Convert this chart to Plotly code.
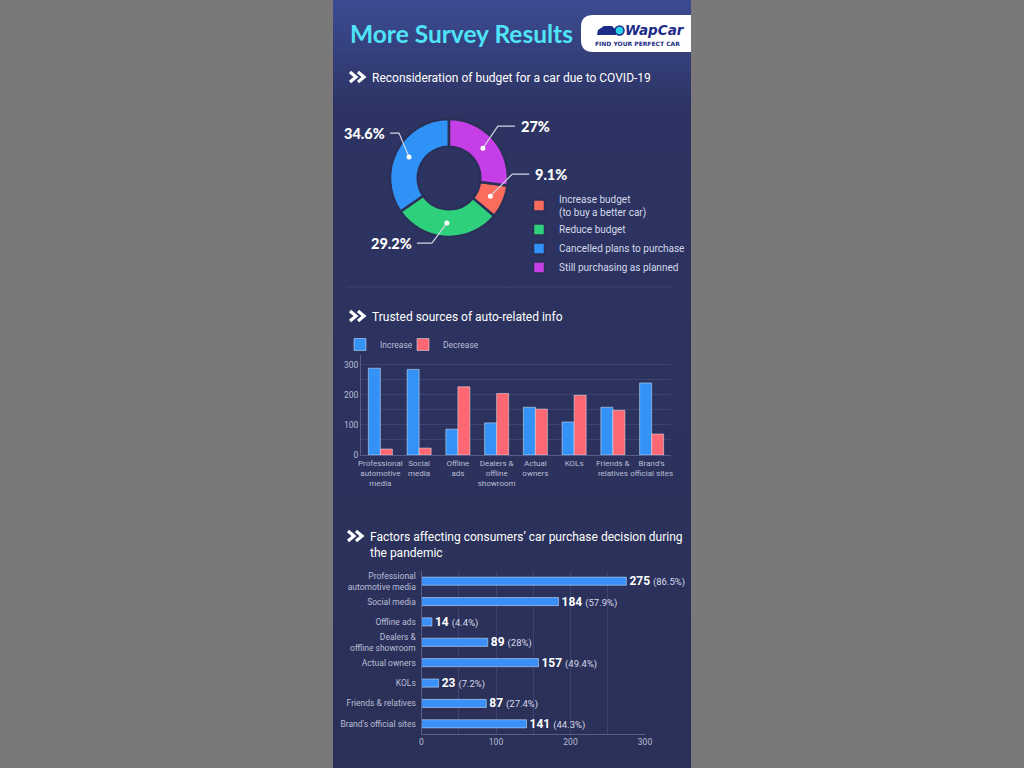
"""
More Survey Results infographic (WapCar) rebuilt with Plotly.
"""

import base64
import math

import plotly.graph_objects as go

# --------------------------------------------------
# Data
# --------------------------------------------------

BUDGET_LABELS = [
    "Increase budget<br>(to buy a better car)",
    "Reduce budget",
    "Cancelled plans to purchase",
    "Still purchasing as planned",
]
BUDGET_SHARE = [9.1, 29.2, 34.6, 27]
BUDGET_TEXT = ["9.1%", "29.2%", "34.6%", "27%"]

SOURCE_CATS = [
    "Professional<br>automotive<br>media",
    "Social<br>media",
    "Offline<br>ads",
    "Dealers &<br>offline<br>showroom",
    "Actual<br>owners",
    "KOLs",
    "Friends &<br>relatives",
    "Brand's<br>official sites",
]
SOURCE_INCREASE = [289, 285, 86, 107, 159, 110, 159, 240]
SOURCE_DECREASE = [20, 23, 227, 205, 153, 199, 149, 70]

FACTOR_CATS = [
    "Professional<br>automotive media",
    "Social media",
    "Offline ads",
    "Dealers &<br>offline showroom",
    "Actual owners",
    "KOLs",
    "Friends & relatives",
    "Brand's official sites",
]
FACTOR_COUNT = [275, 184, 14, 89, 157, 23, 87, 141]
FACTOR_PCT = ["86.5%", "57.9%", "4.4%", "28%", "49.4%", "7.2%", "27.4%", "44.3%"]

# --------------------------------------------------
# Styling helpers (pixel -> paper)
# --------------------------------------------------

W, H = 1024, 768
PANEL_X0, PANEL_X1 = 333, 691
BG = "#2a3057"
GRID = "#3b4370"
AXIS = "#565e8c"
TICK = "#b9bed6"
FONT = "Roboto"


def px(x):
    return x / W


def py(y):
    return 1 - y / H


def path(points, close=False):
    s = " ".join(
        ("M" if i == 0 else "L") + f" {px(x):.5f},{py(y):.5f}"
        for i, (x, y) in enumerate(points)
    )
    return s + (" Z" if close else "")


def note(text, x, y, size, color="white", xanchor="left", family=FONT, weight=None,
         yanchor="middle"):
    font = dict(family=family, size=size, color=color)
    if weight:
        font["weight"] = weight
    return dict(text=text, x=px(x), y=py(y), xref="paper", yref="paper",
                xanchor=xanchor, yanchor=yanchor,
                align=xanchor if xanchor != "center" else "center",
                showarrow=False, font=font)


fig = go.Figure()

# --------------------------------------------------
# Donut: budget reconsideration
# --------------------------------------------------

pie_cx, pie_cy, pie_r, hole = 449, 178, 59, 0.53
total = sum(BUDGET_SHARE)
rotation = 360 * BUDGET_SHARE[-1] / total

fig.add_trace(
    go.Pie(
        labels=BUDGET_LABELS,
        values=BUDGET_SHARE,
        hole=hole,
        sort=False,
        direction="clockwise",
        rotation=rotation,
        textinfo="none",
        marker=dict(
            colors=["#fb6c5c", "#2fd07c", "#2f92f6", "#c63ee6"],
            line=dict(color=BG, width=2.5),
        ),
        domain=dict(
            x=[px(pie_cx - pie_r), px(pie_cx + pie_r)],
            y=[py(pie_cy + pie_r), py(pie_cy - pie_r)],
        ),
        legend="legend",
        hoverinfo="label+percent",
    )
)

# --------------------------------------------------
# Grouped bars: trusted sources
# --------------------------------------------------

fig.add_trace(
    go.Bar(
        x=SOURCE_CATS,
        y=SOURCE_INCREASE,
        name="Increase",
        marker=dict(color="#3492f7"),
        xaxis="x",
        yaxis="y",
        legend="legend2",
    )
)
fig.add_trace(
    go.Bar(
        x=SOURCE_CATS,
        y=SOURCE_DECREASE,
        name="Decrease",
        marker=dict(color="#ff6872"),
        xaxis="x",
        yaxis="y",
        legend="legend3",
    )
)

# --------------------------------------------------
# Horizontal bars: purchase factors
# --------------------------------------------------

fig.add_trace(
    go.Bar(
        y=FACTOR_CATS,
        x=FACTOR_COUNT,
        orientation="h",
        width=0.4,
        marker=dict(color="#3a90f8"),
        text=[
            f"<b>{c}</b> <span style='font-size:9.5px;color:#d6d9ea'>({p})</span>"
            for c, p in zip(FACTOR_COUNT, FACTOR_PCT)
        ],
        textposition="outside",
        constraintext="none",
        textfont=dict(family=FONT, size=12, color="white"),
        cliponaxis=False,
        showlegend=False,
        xaxis="x2",
        yaxis="y2",
    )
)

# --------------------------------------------------
# Panel background (vertical gradient via svg image)
# --------------------------------------------------

svg = (
    '<svg xmlns="http://www.w3.org/2000/svg" width="358" height="768" '
    'preserveAspectRatio="none" viewBox="0 0 358 768">'
    '<defs><linearGradient id="g" x1="0" y1="0" x2="0" y2="1">'
    '<stop offset="0" stop-color="#3c4b93"/>'
    '<stop offset="0.14" stop-color="#2d3463"/>'
    '<stop offset="1" stop-color="#2a3057"/>'
    "</linearGradient></defs>"
    '<rect width="358" height="768" fill="url(#g)"/></svg>'
)
bg_src = "data:image/svg+xml;base64," + base64.b64encode(svg.encode()).decode()

shapes = []
annotations = []

# separator under the donut section
shapes.append(
    dict(type="line", xref="paper", yref="paper", x0=px(346), x1=px(672),
         y0=py(287), y1=py(287), line=dict(color="#3d4572", width=1))
)

# logo box with rounded left corners
logo = (
    f"M {px(593)},{py(15)} L {px(PANEL_X1)},{py(15)} L {px(PANEL_X1)},{py(52)} "
    f"L {px(593)},{py(52)} Q {px(581)},{py(52)} {px(581)},{py(40)} "
    f"L {px(581)},{py(27)} Q {px(581)},{py(15)} {px(593)},{py(15)} Z"
)
shapes.append(dict(type="path", xref="paper", yref="paper", path=logo,
                   fillcolor="white", line=dict(width=0)))
shapes.append(dict(type="path", xref="paper", yref="paper",
                   path=path([(597, 35), (598, 30), (604, 26), (612, 26),
                              (616, 30), (616, 35)], close=True),
                   fillcolor="#1b2b86", line=dict(width=0)))
shapes.append(dict(type="circle", xref="paper", yref="paper",
                   x0=px(615), x1=px(624), y0=py(35), y1=py(26),
                   fillcolor="#2ad3e6", line=dict(color="#1b2b86", width=1.5)))
annotations.append(note("<i><b>WapCar</b></i>", 655, 30, 13.5, "#1b2b86",
                        xanchor="center", family="DejaVu Sans"))
annotations.append(note("<b>FIND YOUR PERFECT CAR</b>", 637, 43, 6, "#1b2b86",
                        xanchor="center", family="DejaVu Sans"))

# main title
annotations.append(note("<b>More Survey Results</b>", 348, 33, 24.5, "#4fe4f7",
                        family="Lato", weight=900))

# section headers with double chevrons
headers = [
    ("Reconsideration of budget for a car due to COVID-19", 350, 77),
    ("Trusted sources of auto-related info", 350, 316),
    ("Factors affecting consumers’ car purchase decision during<br>the pandemic", 348, 536),
]
for text, x0, yc in headers:
    for off in (0, 8):
        shapes.append(dict(type="path", xref="paper", yref="paper",
                           path=path([(x0 + off, yc - 5), (x0 + off + 6, yc),
                                      (x0 + off, yc + 5)]),
                           line=dict(color="white", width=3.2)))
    annotations.append(note(text, x0 + 20, yc - 8, 12, yanchor="top"))

# donut value labels with elbow leaders (offsets are layout tuning)
leaders = [(22, -22, 17), (-15, 20, -15), (-10, -24, -9), (15, -22, 17)]

cum = 0
for val, txt, (dx, dy, run) in zip(BUDGET_SHARE, BUDGET_TEXT, leaders):
    ang = math.radians(rotation + 360 * (cum + val / 2) / total)
    cum += val
    rm = pie_r * (1 + hole) / 2
    dxp = pie_cx + rm * math.sin(ang)
    dyp = pie_cy - rm * math.cos(ang)
    ex, ey = dxp + dx, dyp + dy
    sx = ex + run
    shapes.append(dict(type="path", xref="paper", yref="paper",
                       path=path([(dxp, dyp), (ex, ey), (sx, ey)]),
                       line=dict(color="#cfd3e4", width=1.2)))
    shapes.append(dict(type="circle", xref="paper", yref="paper",
                       x0=px(dxp - 2.5), x1=px(dxp + 2.5),
                       y0=py(dyp + 2.5), y1=py(dyp - 2.5),
                       fillcolor="white", line=dict(width=0)))
    annotations.append(note(txt, sx + (4 if run > 0 else -3), ey, 14.5,
                            xanchor="left" if run > 0 else "right",
                            family="Lato", weight=900))

# --------------------------------------------------
# Layout
# --------------------------------------------------

tick_font = dict(family=FONT, size=8.5, color=TICK)
legend_base = dict(xanchor="left", yanchor="top", bgcolor="rgba(0,0,0,0)")

fig.update_layout(
    width=W,
    height=H,
    autosize=False,
    margin=dict(l=0, r=0, t=0, b=0, autoexpand=False),
    paper_bgcolor="#7a7878",
    plot_bgcolor="rgba(0,0,0,0)",
    font=dict(family=FONT, color="white"),
    barmode="group",
    bargap=0.38,
    bargroupgap=0,
    images=[
        dict(source=bg_src, xref="paper", yref="paper", x=px(PANEL_X0), y=1,
             sizex=px(PANEL_X1) - px(PANEL_X0), sizey=1, sizing="stretch",
             xanchor="left", yanchor="top", layer="below")
    ],
    shapes=shapes,
    annotations=annotations,
    legend=dict(
        legend_base, x=px(519), y=py(186), traceorder="normal",
        font=dict(family=FONT, size=10, color="#d5d9ea"),
    ),
    legend2=dict(
        legend_base, orientation="h", x=px(340), y=py(330),
        font=dict(family=FONT, size=8.5, color=TICK),
    ),
    legend3=dict(
        legend_base, orientation="h", x=px(403), y=py(330),
        font=dict(family=FONT, size=8.5, color=TICK),
    ),
    xaxis=dict(
        domain=[px(361), px(671)],
        anchor="y",
        automargin=False,
        tickfont=dict(family=FONT, size=8, color=TICK),
        showline=True,
        linecolor=AXIS,
        ticks="",
        showgrid=False,
        tickangle=0,
    ),
    yaxis=dict(
        domain=[py(455), py(355)],
        anchor="x",
        automargin=False,
        range=[0, 333],
        dtick=100,
        tickfont=tick_font,
        showline=True,
        linecolor=AXIS,
        gridcolor=GRID,
        minor=dict(dtick=50, showgrid=True, gridcolor=GRID),
        zeroline=False,
        ticks="",
    ),
    xaxis2=dict(
        domain=[px(421.5), px(645)],
        anchor="y2",
        automargin=False,
        range=[0, 300],
        dtick=100,
        tickfont=tick_font,
        showline=True,
        linecolor=AXIS,
        gridcolor=GRID,
        minor=dict(dtick=50, showgrid=True, gridcolor=GRID),
        zeroline=False,
        ticks="",
    ),
    yaxis2=dict(
        domain=[py(734), py(571)],
        anchor="x2",
        automargin=False,
        autorange="reversed",
        tickfont=tick_font,
        showline=True,
        linecolor=AXIS,
        showgrid=False,
        ticks="outside",
        ticklen=3,
        tickcolor="rgba(0,0,0,0)",
    ),
)

fig.write_html(
    "out.html",
    config=dict(displayModeBar=False, responsive=False),
    post_script="document.body.style.margin='0';document.body.style.overflow='hidden';",
)
